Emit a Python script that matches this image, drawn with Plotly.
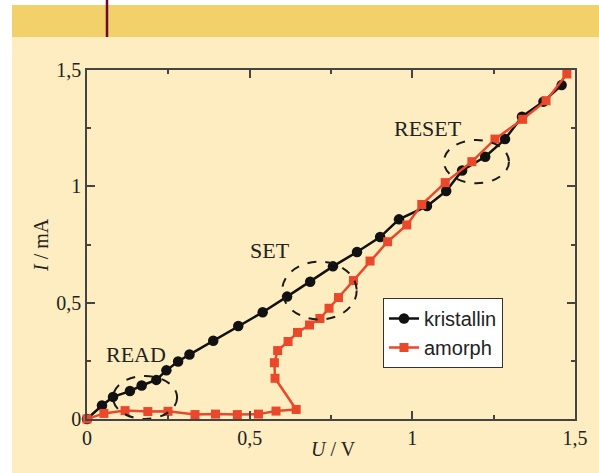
import plotly.graph_objects as go

# crystalline (black circles)
U_kri = [0.0, 0.046, 0.080, 0.132, 0.168, 0.213, 0.244, 0.280, 0.315, 0.388, 0.465, 0.540,
         0.615, 0.686, 0.756, 0.830, 0.901, 0.959, 1.045, 1.104, 1.153, 1.224, 1.285,
         1.337, 1.403, 1.459]
I_kri = [0.0, 0.058, 0.095, 0.120, 0.144, 0.168, 0.209, 0.247, 0.277, 0.336, 0.400, 0.459,
         0.526, 0.590, 0.656, 0.718, 0.782, 0.858, 0.915, 0.980, 1.068, 1.127, 1.203,
         1.299, 1.364, 1.435]

# amorphous (red squares)
U_amo = [0.0, 0.052, 0.117, 0.187, 0.249, 0.332, 0.395, 0.462, 0.527, 0.581, 0.643,
         0.578, 0.576, 0.586, 0.618, 0.647, 0.684, 0.716, 0.744, 0.773, 0.819, 0.870,
         0.924, 0.983, 1.029, 1.101, 1.183, 1.254, 1.339, 1.411, 1.475]
I_amo = [0.0, 0.024, 0.036, 0.032, 0.033, 0.019, 0.021, 0.019, 0.021, 0.034, 0.041,
         0.175, 0.242, 0.294, 0.333, 0.372, 0.404, 0.432, 0.476, 0.522, 0.595, 0.679,
         0.762, 0.834, 0.922, 1.016, 1.106, 1.203, 1.288, 1.368, 1.483]

tick_vals = [0, 0.5, 1, 1.5]
tick_text = ["0", "0,5", "1", "1,5"]

# annotated regions: label, label position, ellipse bounds (x0, x1, y0, y1)
region_labels = ["READ", "SET", "RESET"]
label_pos = [(0.152, 0.279), (0.563, 0.725), (1.048, 1.248)]
ellipses = [(0.080, 0.277, 0.0, 0.185), (0.600, 0.829, 0.428, 0.676), (1.097, 1.297, 1.013, 1.199)]

W, H = 599, 473
L, R, T, B = 87, 24, 70, 54
pw, ph = W - L - R, H - T - B


def px_x(p):
    return (p - L) / pw


def px_y(p):
    return (H - B - p) / ph


SERIF = "Liberation Serif"
SANS = "Liberation Sans"
RED = "#E9482A"

fig = go.Figure()
fig.add_trace(go.Scatter(x=U_kri, y=I_kri, mode="lines+markers", name="kristallin",
                         legendgroup="a",
                         line=dict(color="#111111", width=2.5),
                         marker=dict(symbol="circle", size=10.5, color="#111111"),
                         cliponaxis=False))
fig.add_trace(go.Scatter(x=U_amo, y=I_amo, mode="lines+markers", name="amorph",
                         legendgroup="b",
                         line=dict(color=RED, width=2.5),
                         marker=dict(symbol="square", size=9, color=RED),
                         cliponaxis=False))

shapes = []
# backgrounds
shapes.append(dict(type="rect", xref="paper", yref="paper", layer="below",
                   x0=px_x(12), x1=px_x(W + 2), y0=px_y(H + 2), y1=px_y(37),
                   fillcolor="#FDEDC0", line=dict(width=0)))
shapes.append(dict(type="rect", xref="paper", yref="paper", layer="below",
                   x0=px_x(12), x1=px_x(W + 2), y0=px_y(37), y1=px_y(5),
                   fillcolor="#F2D16B", line=dict(width=0)))
shapes.append(dict(type="line", xref="paper", yref="paper", layer="above",
                   x0=px_x(107), x1=px_x(107), y0=px_y(37), y1=px_y(-2),
                   line=dict(color="#6B0A2A", width=2.5)))
for (x0, x1, y0, y1) in ellipses:
    shapes.append(dict(type="circle", xref="x", yref="y", x0=x0, x1=x1, y0=y0, y1=y1,
                       line=dict(color="#1a1a1a", width=2, dash="dash")))

annotations = []
for lab, (lx, ly) in zip(region_labels, label_pos):
    annotations.append(dict(x=lx, y=ly, xref="x", yref="y", text=lab, showarrow=False,
                            xanchor="center", yanchor="middle",
                            font=dict(family=SERIF, size=22, color="#222222")))
annotations.append(dict(x=px_x(333), y=px_y(449), xref="paper", yref="paper",
                        xanchor="center", yanchor="middle",
                        text="<i>U</i> / V", showarrow=False,
                        font=dict(family=SERIF, size=20, color="#222222")))
annotations.append(dict(x=px_x(41), y=px_y(245), xref="paper", yref="paper",
                        xanchor="center", yanchor="middle",
                        text="<i>I</i> / mA", showarrow=False, textangle=-90,
                        font=dict(family=SERIF, size=20, color="#222222")))

axis_common = dict(range=[0, 1.5], showgrid=False, zeroline=False, showline=True,
                   linecolor="#444444", linewidth=1.5, mirror="allticks",
                   ticks="inside", ticklen=8, tickwidth=1.5, tickcolor="#444444",
                   tickvals=tick_vals, ticktext=tick_text,
                   tickfont=dict(family=SERIF, size=20, color="#222222"),
                   minor=dict(dtick=0.25, ticks="inside", ticklen=4, tickwidth=1.5,
                              tickcolor="#444444", showgrid=False))

fig.update_layout(
    width=W, height=H,
    margin=dict(l=L, r=R, t=T, b=B),
    paper_bgcolor="white", plot_bgcolor="white",
    xaxis=dict(**axis_common),
    yaxis=dict(**axis_common),
    shapes=shapes, annotations=annotations,
    showlegend=True,
    legend=dict(x=px_x(383), y=px_y(298), xanchor="left", yanchor="top",
                bgcolor="white", bordercolor="#333333", borderwidth=1,
                font=dict(family=SANS, size=20, color="#222222"),
                itemwidth=30,
                traceorder="grouped", tracegroupgap=0),
)

fig.write_html("out.html")
